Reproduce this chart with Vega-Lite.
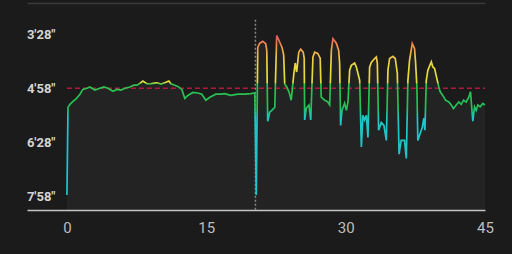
{
  "$schema": "https://vega.github.io/schema/vega-lite/v6.json",
  "width": 458,
  "height": 207,
  "autosize": {"type": "none"},
  "padding": {"left": 27, "top": 3, "right": 27, "bottom": 44},
  "background": "#1b1b1b",
  "view": {"stroke": null},
  "datasets": {
    "pace": [
      {"t": 0.0, "pace": 476}, {"t": 0.11, "pace": 330}, {"t": 0.32, "pace": 325}, {"t": 0.65, "pace": 320},
      {"t": 0.97, "pace": 316}, {"t": 1.40, "pace": 308}, {"t": 1.72, "pace": 300}, {"t": 2.15, "pace": 298},
      {"t": 2.47, "pace": 296}, {"t": 3.01, "pace": 301}, {"t": 3.55, "pace": 298}, {"t": 3.98, "pace": 296},
      {"t": 4.41, "pace": 298}, {"t": 4.95, "pace": 303}, {"t": 5.38, "pace": 300}, {"t": 5.81, "pace": 301},
      {"t": 6.24, "pace": 298}, {"t": 6.77, "pace": 296}, {"t": 7.20, "pace": 293}, {"t": 7.53, "pace": 293},
      {"t": 7.85, "pace": 290}, {"t": 8.17, "pace": 286}, {"t": 8.60, "pace": 290.5}, {"t": 8.92, "pace": 291},
      {"t": 9.25, "pace": 290}, {"t": 9.68, "pace": 289}, {"t": 10.11, "pace": 291}, {"t": 10.54, "pace": 289},
      {"t": 10.97, "pace": 286}, {"t": 11.18, "pace": 290.5}, {"t": 11.61, "pace": 293}, {"t": 11.94, "pace": 295},
      {"t": 12.37, "pace": 300}, {"t": 12.69, "pace": 315}, {"t": 13.01, "pace": 310}, {"t": 13.55, "pace": 305},
      {"t": 14.09, "pace": 306}, {"t": 14.52, "pace": 308}, {"t": 14.95, "pace": 318}, {"t": 15.38, "pace": 313},
      {"t": 16.02, "pace": 308}, {"t": 16.56, "pace": 308}, {"t": 16.99, "pace": 307}, {"t": 17.63, "pace": 310},
      {"t": 18.39, "pace": 308}, {"t": 19.14, "pace": 308}, {"t": 19.78, "pace": 307}, {"t": 20.22, "pace": 306},
      {"t": 20.38, "pace": 476}, {"t": 20.54, "pace": 230}, {"t": 20.75, "pace": 223}, {"t": 21.08, "pace": 220},
      {"t": 21.40, "pace": 224}, {"t": 21.51, "pace": 235}, {"t": 21.61, "pace": 353}, {"t": 21.83, "pace": 338},
      {"t": 22.04, "pace": 335}, {"t": 22.37, "pace": 330}, {"t": 22.58, "pace": 210}, {"t": 22.90, "pace": 221},
      {"t": 23.17, "pace": 231}, {"t": 23.33, "pace": 243}, {"t": 23.44, "pace": 291}, {"t": 23.66, "pace": 296},
      {"t": 23.92, "pace": 305}, {"t": 24.14, "pace": 318}, {"t": 24.41, "pace": 276}, {"t": 24.57, "pace": 256},
      {"t": 24.73, "pace": 271}, {"t": 24.95, "pace": 238}, {"t": 25.16, "pace": 233}, {"t": 25.43, "pace": 238},
      {"t": 25.54, "pace": 248}, {"t": 25.59, "pace": 351}, {"t": 25.77, "pace": 331}, {"t": 26.05, "pace": 326},
      {"t": 26.24, "pace": 351}, {"t": 26.48, "pace": 246}, {"t": 26.67, "pace": 238}, {"t": 26.99, "pace": 240},
      {"t": 27.26, "pace": 248}, {"t": 27.37, "pace": 313}, {"t": 27.74, "pace": 318}, {"t": 28.06, "pace": 320.5},
      {"t": 28.28, "pace": 326}, {"t": 28.46, "pace": 235}, {"t": 28.63, "pace": 215.5}, {"t": 29.00, "pace": 223},
      {"t": 29.25, "pace": 235}, {"t": 29.35, "pace": 256}, {"t": 29.46, "pace": 360}, {"t": 29.60, "pace": 335},
      {"t": 29.89, "pace": 323}, {"t": 30.08, "pace": 335}, {"t": 30.25, "pace": 321}, {"t": 30.43, "pace": 268},
      {"t": 30.61, "pace": 260}, {"t": 30.97, "pace": 256}, {"t": 31.15, "pace": 262.5}, {"t": 31.32, "pace": 273},
      {"t": 31.51, "pace": 285}, {"t": 31.69, "pace": 396}, {"t": 31.86, "pace": 343}, {"t": 32.04, "pace": 351},
      {"t": 32.23, "pace": 343}, {"t": 32.40, "pace": 380}, {"t": 32.58, "pace": 263}, {"t": 32.76, "pace": 255},
      {"t": 33.12, "pace": 248.5}, {"t": 33.30, "pace": 246}, {"t": 33.41, "pace": 256}, {"t": 33.55, "pace": 368},
      {"t": 33.84, "pace": 355}, {"t": 34.12, "pace": 360}, {"t": 34.38, "pace": 385}, {"t": 34.55, "pace": 268},
      {"t": 34.73, "pace": 248.5}, {"t": 35.09, "pace": 245}, {"t": 35.34, "pace": 248.5}, {"t": 35.56, "pace": 273},
      {"t": 35.75, "pace": 408}, {"t": 35.97, "pace": 385}, {"t": 36.34, "pace": 385}, {"t": 36.53, "pace": 415},
      {"t": 36.70, "pace": 285}, {"t": 36.88, "pace": 251}, {"t": 37.17, "pace": 223.5}, {"t": 37.42, "pace": 232},
      {"t": 37.53, "pace": 256}, {"t": 37.67, "pace": 296}, {"t": 37.77, "pace": 385}, {"t": 38.03, "pace": 373},
      {"t": 38.25, "pace": 363}, {"t": 38.42, "pace": 348}, {"t": 38.53, "pace": 368}, {"t": 38.68, "pace": 285},
      {"t": 38.85, "pace": 268}, {"t": 39.22, "pace": 254}, {"t": 39.39, "pace": 262.5}, {"t": 39.57, "pace": 265},
      {"t": 39.82, "pace": 282}, {"t": 40.03, "pace": 296}, {"t": 40.18, "pace": 304}, {"t": 40.46, "pace": 310},
      {"t": 40.75, "pace": 318}, {"t": 41.11, "pace": 321}, {"t": 41.37, "pace": 326}, {"t": 41.61, "pace": 332},
      {"t": 41.90, "pace": 326}, {"t": 42.18, "pace": 321}, {"t": 42.44, "pace": 325}, {"t": 42.69, "pace": 318},
      {"t": 42.98, "pace": 321}, {"t": 43.26, "pace": 312.5}, {"t": 43.44, "pace": 304}, {"t": 43.69, "pace": 353},
      {"t": 43.87, "pace": 329}, {"t": 44.05, "pace": 335}, {"t": 44.23, "pace": 326}, {"t": 44.48, "pace": 329},
      {"t": 44.76, "pace": 323.5}, {"t": 45.0, "pace": 326}
    ],
    "avg": [{"start": 0, "end": 45, "pace": 298}],
    "lap": [{"t": 20.29, "top": 184, "bottom": 501}]
  },
  "layer": [
    {
      "data": {"name": "pace"},
      "mark": {"type": "area", "fill": "#ffffff", "fillOpacity": 0.035},
      "encoding": {
        "x": {"field": "t", "type": "quantitative", "scale": {"domain": [-4.3, 45], "nice": false, "zero": false},
              "axis": {"orient": "top", "labels": false, "ticks": false, "grid": false, "title": null, "domainColor": "#3a3a3a", "domainWidth": 1.5}},
        "y": {"field": "pace", "type": "quantitative", "scale": {"domain": [156, 501], "reverse": true, "nice": false, "zero": false},
              "axis": {"values": [208, 298, 388, 478], "ticks": false, "grid": false, "domain": false, "title": null,
                       "offset": -30, "labelPadding": 2, "labelAlign": "right", "labelColor": "#d4d4d4",
                       "labelFont": "Roboto", "labelFontWeight": "bold", "labelFontSize": 13,
                       "labelExpr": "floor(datum.value / 60) + \"'\" + (datum.value % 60 < 10 ? '0' : '') + (datum.value % 60) + '\"'"}},
        "y2": {"datum": 501}
      }
    },
    {
      "data": {"name": "avg"},
      "mark": {"type": "rule", "color": "#b3183c", "strokeWidth": 1.6, "strokeDash": [5, 3]},
      "encoding": {
        "x": {"field": "start", "type": "quantitative", "axis": null},
        "x2": {"field": "end"},
        "y": {"field": "pace", "type": "quantitative"}
      }
    },
    {
      "data": {"name": "lap"},
      "mark": {"type": "rule", "color": "#8a8a8a", "strokeWidth": 1.5, "strokeDash": [2, 2]},
      "encoding": {
        "x": {"field": "t", "type": "quantitative", "axis": null},
        "y": {"field": "top", "type": "quantitative"},
        "y2": {"field": "bottom"}
      }
    },
    {
      "data": {"name": "pace"},
      "mark": {
        "type": "line",
        "strokeWidth": 1.7,
        "stroke": {
          "gradient": "linear", "x1": 0, "y1": 0, "x2": 0, "y2": 1,
          "stops": [
            {"offset": 0, "color": "#e8505c"},
            {"offset": 0.06, "color": "#f0884a"},
            {"offset": 0.14, "color": "#ecc840"},
            {"offset": 0.2, "color": "#e6da3c"},
            {"offset": 0.295, "color": "#e2dc3a"},
            {"offset": 0.305, "color": "#2cc24c"},
            {"offset": 0.45, "color": "#22c058"},
            {"offset": 0.52, "color": "#1fc6c8"},
            {"offset": 1, "color": "#1ec4cc"}
          ]
        }
      },
      "encoding": {
        "x": {"field": "t", "type": "quantitative",
              "axis": {"orient": "bottom", "values": [0, 15, 30, 45], "ticks": false, "grid": false, "title": null,
                       "domainColor": "#c4c4c4", "domainWidth": 1.5, "labelColor": "#bdbdbd", "labelFont": "Roboto",
                       "labelFontSize": 15, "labelPadding": 10, "labelFlush": false}},
        "y": {"field": "pace", "type": "quantitative"}
      }
    }
  ],
  "resolve": {"axis": {"x": "independent"}}
}
